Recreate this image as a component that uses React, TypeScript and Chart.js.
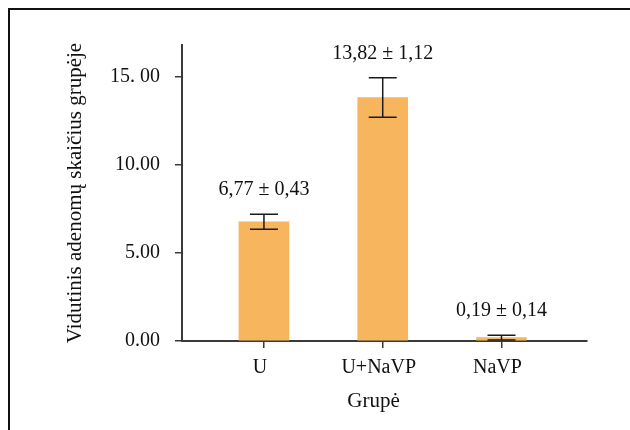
import React, { useEffect, useRef } from "react";
import { Chart, registerables } from "chart.js";

Chart.register(...registerables);

const categories = ["U", "U+NaVP", "NaVP"];
const means = [6.77, 13.82, 0.19];
const errors = [0.43, 1.12, 0.14];
const yTickValues = [0, 5, 10, 15];
const yTickLabels = ["0.00", "5.00", "10.00", "15. 00"];
const yTitle = "Vidutinis adenomų skaičius grupėje";
const xTitle = "Grupė";

const FONT = "'Liberation Serif', 'DejaVu Serif', serif";
const BAR_COLOR = "#F7B55E";
const AXIS_COLOR = "#3a3a3a";

const fmt = (v: number) => v.toFixed(2).replace(".", ",");

const errorBarPlugin = {
  id: "errorBars",
  afterDatasetsDraw(chart: any) {
    const xs = chart.scales.x;
    const ys = chart.scales.y;
    const ctx = chart.ctx;
    ctx.save();
    ctx.strokeStyle = "#1a1a1a";
    ctx.lineWidth = 1.5;
    means.forEach((m, i) => {
      const x = xs.getPixelForValue(i);
      const yt = ys.getPixelForValue(m + errors[i]);
      const yb = ys.getPixelForValue(Math.max(0, m - errors[i]));
      ctx.beginPath();
      ctx.moveTo(x, yt);
      ctx.lineTo(x, yb);
      ctx.moveTo(x - 14, yt);
      ctx.lineTo(x + 14, yt);
      ctx.moveTo(x - 14, yb);
      ctx.lineTo(x + 14, yb);
      ctx.stroke();
      ctx.fillStyle = "#111";
      ctx.font = `20px ${FONT}`;
      ctx.textAlign = "center";
      ctx.textBaseline = "alphabetic";
      ctx.fillText(`${fmt(m)} ± ${fmt(errors[i])}`, x, yt - 19);
    });
    // x-axis title
    const ca = chart.chartArea;
    ctx.fillStyle = "#111";
    ctx.font = `21px ${FONT}`;
    ctx.textAlign = "center";
    ctx.textBaseline = "alphabetic";
    ctx.fillText(xTitle, (ca.left + ca.right) / 2 - 11, xs.bottom - 23);
    ctx.restore();
  },
};

export default function App() {
  const ref = useRef<HTMLCanvasElement | null>(null);
  useEffect(() => {
    if (!ref.current) return;
    const chart = new Chart(ref.current, {
      type: "bar",
      data: {
        datasets: [
          {
            data: means.map((m, i) => ({ x: i, y: m })),
            backgroundColor: BAR_COLOR,
            borderWidth: 0,
            barThickness: 50,
          },
        ],
      },
      options: {
        responsive: false,
        animation: false,
        layout: { padding: { left: 10, top: 45, right: 43, bottom: 0 } },
        plugins: {
          legend: { display: false },
          tooltip: { enabled: false },
        },
        scales: {
          x: {
            type: "linear",
            min: -0.69,
            max: 2.72,
            offset: false,
            afterBuildTicks: (s: any) => {
              s.ticks = categories.map((_, i) => ({ value: i }));
            },
            afterFit: (s: any) => {
              s.height = 89;
            },
            ticks: {
              color: "#111",
              font: { family: FONT, size: 20 },
              padding: 8,
              labelOffset: -4,
              autoSkip: false,
              maxRotation: 0,
              callback: (v: any) => categories[v] ?? "",
            },
            grid: {
              offset: false,
              drawOnChartArea: false,
              drawTicks: true,
              tickLength: 7,
              color: AXIS_COLOR,
              lineWidth: 1.5,
            },
            border: { display: true, color: AXIS_COLOR, width: 2 },
            title: { display: false },
          },
          y: {
            min: 0,
            max: 16.8,
            afterBuildTicks: (s: any) => {
              s.ticks = yTickValues.map((v) => ({ value: v }));
            },
            afterFit: (s: any) => {
              s.width = 172;
            },
            ticks: {
              color: "#111",
              font: { family: FONT, size: 20 },
              padding: 15,
              callback: (v: any) => {
                const k = yTickValues.indexOf(v);
                return k >= 0 ? yTickLabels[k] : "";
              },
            },
            grid: {
              drawOnChartArea: false,
              drawTicks: true,
              tickLength: 7,
              color: AXIS_COLOR,
              lineWidth: 1.5,
            },
            border: { display: true, color: AXIS_COLOR, width: 2 },
            title: {
              display: true,
              text: yTitle,
              color: "#111",
              font: { family: FONT, size: 21 },
              padding: { top: 53, bottom: 0 },
            },
          },
        },
      },
      plugins: [errorBarPlugin],
    });
    return () => chart.destroy();
  }, []);

  return (
    <>
      <div
        style={{
          position: "absolute",
          left: 8,
          top: 8,
          width: 622,
          height: 422,
          boxSizing: "border-box",
          borderLeft: "2px solid #111",
          borderTop: "2px solid #111",
        }}
      />
      <canvas
        ref={ref}
        width={630}
        height={430}
        style={{ position: "absolute", left: 0, top: 0, width: 630, height: 430 }}
      />
    </>
  );
}
